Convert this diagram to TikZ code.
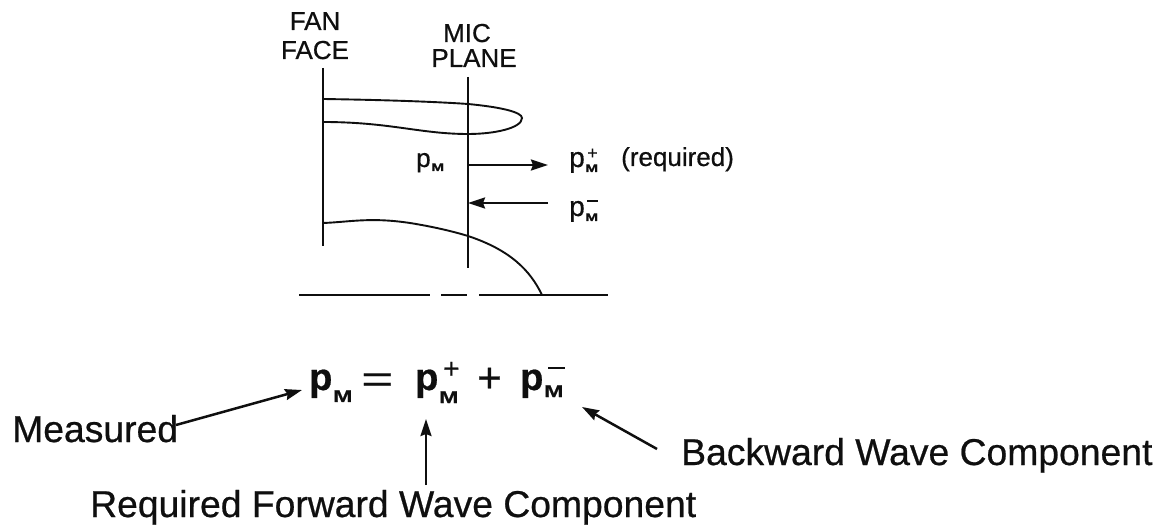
\documentclass[tikz,border=0pt]{standalone}
\usepackage{fontspec}
\setmainfont[FakeBold=0.6]{Liberation Sans}
\usetikzlibrary{arrows.meta}
\definecolor{ink}{gray}{0.06}
\tikzset{
  every node/.style={text=ink},
  thickln/.style={line width=2.8pt,ink},
  thinln/.style={line width=1.9pt,ink},
  arr/.style={line width=2.5pt,ink,-{Stealth[length=17pt,width=11pt,inset=2pt]}},
  lab/.style={inner sep=0,anchor=base west},
  small/.style={lab,font=\fontsize{26}{26}\selectfont},
  smallp/.style={lab,font=\fontsize{28}{28}\selectfont},
  big/.style={lab,font=\fontsize{37.3}{37.3}\selectfont},
  captext/.style={inner sep=0,anchor=base,font=\fontsize{26}{26}\selectfont},
  eqn/.style={lab,font=\fontsize{38}{38}\selectfont\bfseries},
  eqsub/.style={lab,font=\fontsize{17}{17}\selectfont\bfseries,xscale=1.35},
  smsub/.style={lab,font=\fontsize{11}{11}\selectfont\bfseries,xscale=1.4},
}
\begin{document}
\begin{tikzpicture}[x=1pt,y=-1pt]
\useasboundingbox (0,0) rectangle (1167,526);
\fill[white] (0,0) rectangle (1167,526);
\node[captext] (fan) at (315,30) {FAN};
\node[captext] (face) at (315,59) {FACE};
\node[captext] (mic) at (467,42) {MIC};
\node[captext] (plane) at (474,67) {PLANE};
\coordinate (f1) at (323,68); \coordinate (f2) at (323,246);
\coordinate (m1) at (468,77); \coordinate (m2) at (468,268);
\draw[thickln] (f1) -- (f2);
\draw[thickln] (m1) -- (m2);
\draw[thinln] (323,99) .. controls (390,100) and (440,102) .. (468,104) .. controls (500,107) and (522,112) .. (522,118) .. controls (522,128) and (495,134) .. (468,134) .. controls (420,134) and (390,122) .. (323,122);
\draw[thinln] (323,223) .. controls (350,222) and (370,217) .. (410,223) .. controls (435,227) and (455,232) .. (468,236) .. controls (510,250) and (530,270) .. (542,295);
\draw[thickln] (299,295) -- (430,295);
\draw[thickln] (441,295) -- (467,295);
\draw[thickln] (479,295) -- (608,295);
\coordinate (a1) at (468,165); \coordinate (a2) at (548,165);
\coordinate (b1) at (548,203); \coordinate (b2) at (468,203);
\draw[arr] (a1) -- (a2);
\draw[arr] (b1) -- (b2);
% small labels
\node[small] (p0) at (416,167) {p};
\node[smsub] (m0) at (431,171) {M};
\node[smallp] (p1) at (569,167) {p};
\node[smsub] (m1s) at (585,172) {M};
\node[lab,font=\fontsize{18}{18}\selectfont] (s1) at (587,159) {+};
\node[smallp] (p2) at (569,216) {p};
\node[smsub] (m2s) at (585,221) {M};
\coordinate (n1) at (587,201); \coordinate (n2) at (598,201);
\draw[line width=1.6pt,ink] (n1) -- (n2);
\node[small] (req) at (621,166) {(required)};
% equation
\node[eqn] (ep0) at (309,390) {p};
\node[eqsub] (em0) at (333,402) {M};
\node[lab,font=\fontsize{38}{38}\selectfont,xscale=1.45] (eeq) at (361,392) {=};
\node[eqn] (ep1) at (415,390) {p};
\node[eqsub] (em1) at (439,403) {M};
\node[lab,font=\fontsize{28}{28}\selectfont] (ep) at (443,378) {+};
\node[lab,font=\fontsize{42}{42}\selectfont] (eplus) at (477,392) {+};
\node[eqn] (ep2) at (520,390) {p};
\node[eqsub] (em2) at (544,397) {M};
\coordinate (e1) at (548,368); \coordinate (e2) at (565,368);
\draw[line width=2.4pt,ink] (e1) -- (e2);
% captions
\node[big] (meas) at (12,442) {Measured};
\node[big] (rfw) at (90,517) {Required Forward Wave Component};
\node[big] (bwc) at (681,465) {Backward Wave Component};
\coordinate (c1) at (176,425); \coordinate (c2) at (302,390);
\coordinate (d1) at (426,485); \coordinate (d2) at (426,419);
\coordinate (g1) at (657,449); \coordinate (g2) at (582,407);
\draw[arr] (c1) -- (c2);
\draw[arr] (d1) -- (d2);
\draw[arr] (g1) -- (g2);
\end{tikzpicture}
\end{document}
